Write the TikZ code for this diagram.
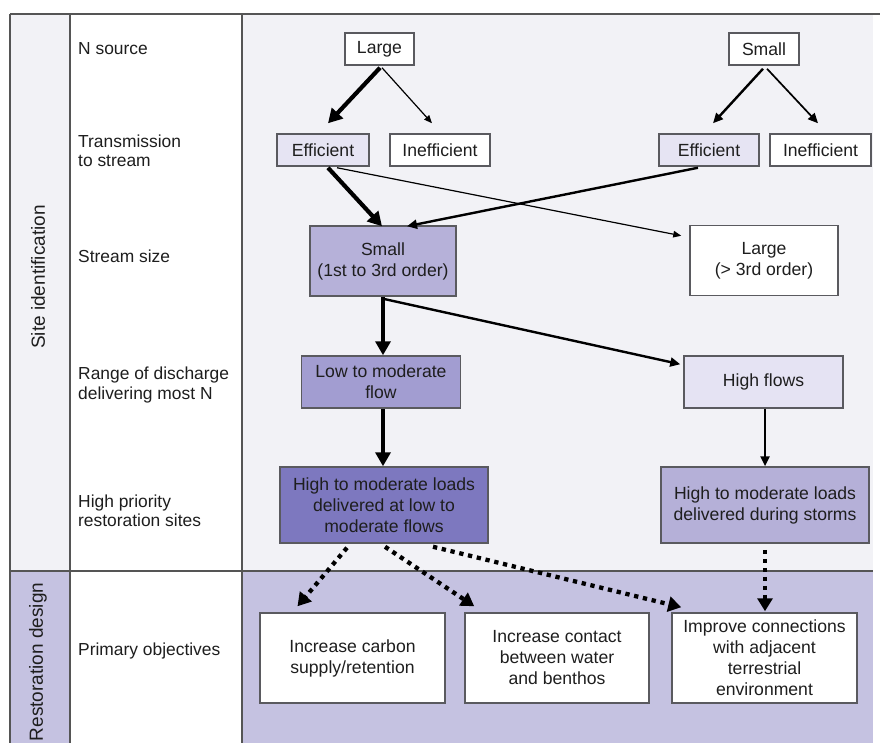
\documentclass[tikz,border=0pt]{standalone}
\usepackage{fontspec}
\setmainfont{Liberation Sans}
\usetikzlibrary{arrows.meta,calc}
\definecolor{upbg}{HTML}{F2F2F6}
\definecolor{lowbg}{HTML}{C5C2E1}
\definecolor{gridline}{HTML}{555555}
\definecolor{boxline}{HTML}{5A5A5F}
\definecolor{txt}{HTML}{1E1E1E}
\definecolor{effc}{HTML}{E6E4F3}
\definecolor{smallc}{HTML}{B6B1D9}
\definecolor{lowc}{HTML}{A29DD1}
\definecolor{loadc}{HTML}{7D78BF}
\definecolor{highc}{HTML}{E5E3F3}
\definecolor{stormc}{HTML}{B5B0D8}
\newcommand{\fs}{\fontsize{17.6}{21}\selectfont}
\tikzset{
  box/.style={draw=boxline, line width=1.5pt, font=\fs, text=txt, align=center, inner sep=1pt},
  lbl/.style={anchor=west, font=\fontsize{17.4}{19.5}\selectfont, text=txt, align=left, inner sep=0pt},
  side/.style={rotate=90, font=\fontsize{19}{20}\selectfont, text=txt, inner sep=0pt},
  thickarr/.style={line width=4.2pt, -{Triangle[length=14pt,width=15pt]}},
  medarr/.style={line width=2.4pt, -{Triangle[length=10pt,width=9pt]}},
  thinarr/.style={line width=1.2pt, -{Triangle[length=8pt,width=6.5pt]}},
  dotarr/.style={line width=4.3pt, dash pattern=on 4.3pt off 4.7pt, -{Triangle[length=13pt,width=15pt]}},
}
\begin{document}
\begin{tikzpicture}[x=1pt,y=-1pt]
\useasboundingbox (0,0) rectangle (880,743);
% backgrounds
\fill[upbg] (10,14) rectangle (873,571);
\fill[lowbg] (10,571) rectangle (873,743);
\fill[white] (70,14) rectangle (242,743);
% grid lines
\draw[gridline, line width=1.5pt] (10,14) -- (880,14);
\draw[gridline, line width=1.5pt] (10,14) -- (10,743);
\draw[gridline, line width=1.5pt] (70,14) -- (70,743);
\draw[gridline, line width=1.5pt] (242,14) -- (242,743);
\draw[gridline, line width=1.5pt] (10,571) -- (873,571);
% side labels
\node[side] (sideA) at (38,277) {Site identification};
\node[side] (sideB) at (38,662) {Restoration design};
% row labels
\node[lbl] (l1) at (78,49) {N source};
\node[lbl] (l2) at (78,151) {Transmission\\to stream};
\node[lbl] (l3) at (78,256) {Stream size};
\node[lbl] (l4) at (78,385) {Range of discharge\\delivering most N};
\node[lbl] (l5) at (78,511) {High priority\\restoration sites};
\node[lbl] (l6) at (78,651) {Primary objectives};
% nodes
\node[box, fill=white, minimum width=69pt, minimum height=32pt] (large) at (379.5,49) {Large};
\node[box, fill=white, minimum width=70pt, minimum height=32pt] (smallT) at (764,49) {Small};
\node[box, fill=effc, minimum width=92pt, minimum height=32pt] (effL) at (323,150) {Efficient};
\node[box, fill=white, minimum width=100pt, minimum height=32pt] (ineffL) at (440,150) {Inefficient};
\node[box, fill=effc, minimum width=100pt, minimum height=32pt] (effR) at (709,150) {Efficient};
\node[box, fill=white, minimum width=101pt, minimum height=32pt] (ineffR) at (820.5,150) {Inefficient};
\node[box, fill=smallc, minimum width=146pt, minimum height=70pt] (smallS) at (383,261) {Small\\(1st to 3rd order)};
\node[box, fill=white, minimum width=148pt, minimum height=70pt] (largeS) at (764,260.5) {Large\\(> 3rd order)};
\node[box, fill=lowc, minimum width=159pt, minimum height=52pt] (lowmod) at (381,382) {Low to moderate\\flow};
\node[box, fill=highc, minimum width=159pt, minimum height=52pt] (highf) at (763.5,382) {High flows};
\node[box, fill=loadc, minimum width=208pt, minimum height=76pt] (loadsL) at (384,505) {High to moderate loads\\delivered at low to\\moderate flows};
\node[box, fill=stormc, minimum width=208pt, minimum height=76pt] (storms) at (765,505) {High to moderate loads\\delivered during storms};
\node[box, fill=white, minimum width=185pt, minimum height=90pt] (carbon) at (352.5,658) {Increase carbon\\supply/retention};
\node[box, fill=white, minimum width=184pt, minimum height=90pt] (contact) at (557,658) {Increase contact\\between water\\and benthos};
\node[box, fill=white, minimum width=185pt, minimum height=90pt] (improve) at (764.5,658) {Improve connections\\with adjacent\\terrestrial\\environment};
% arrows
\draw[thickarr] ($(large.south)+(0.5,2)$) -- ($(effL.north)+(5,-10)$);
\draw[thinarr] ($(large.south)+(2.5,2)$) -- ($(ineffL.north)+(-8,-10)$);
\draw[medarr] ($(smallT.south)+(-1,3)$) -- ($(effR.north)+(4,-10)$);
\draw[medarr, line width=1.7pt] ($(smallT.south)+(3,3)$) -- ($(ineffR.north)+(-2.5,-10)$);
\draw[thickarr] ($(effL.south)+(5,1)$) -- ($(smallS.north)+(-1,1)$);
\draw[thinarr] ($(effL.south)+(14,1)$) -- ($(largeS.north west)+(-8,11)$);
\draw[medarr] ($(effR.south)+(-11,1)$) -- ($(smallS.north)+(24,1)$);
\draw[thickarr] (smallS.south) -- (smallS.south |- lowmod.north);
\draw[medarr] ($(smallS.south)+(0,2)$) -- ($(highf.north west)+(-3,9)$);
\draw[thickarr] ($(lowmod.south)+(2,0)$) -- ($(lowmod.south |- loadsL.north)+(2,0)$);
\draw[medarr] ($(highf.south)+(1.5,0)$) -- ($(highf.south |- storms.north)+(1.5,0)$);
\draw[dotarr] ($(loadsL.south)+(-37,4)$) -- ($(carbon.north)+(-55,-6)$);
\draw[dotarr] ($(loadsL.south)+(1,3)$) -- ($(contact.north west)+(10,-6)$);
\draw[dotarr] ($(loadsL.south)+(49,3)$) -- ($(improve.north west)+(10,-5)$);
\draw[dotarr] ($(storms.south)+(0,6)$) -- ($(storms.south |- improve.north)+(0,-1)$);
\end{tikzpicture}
\end{document}
